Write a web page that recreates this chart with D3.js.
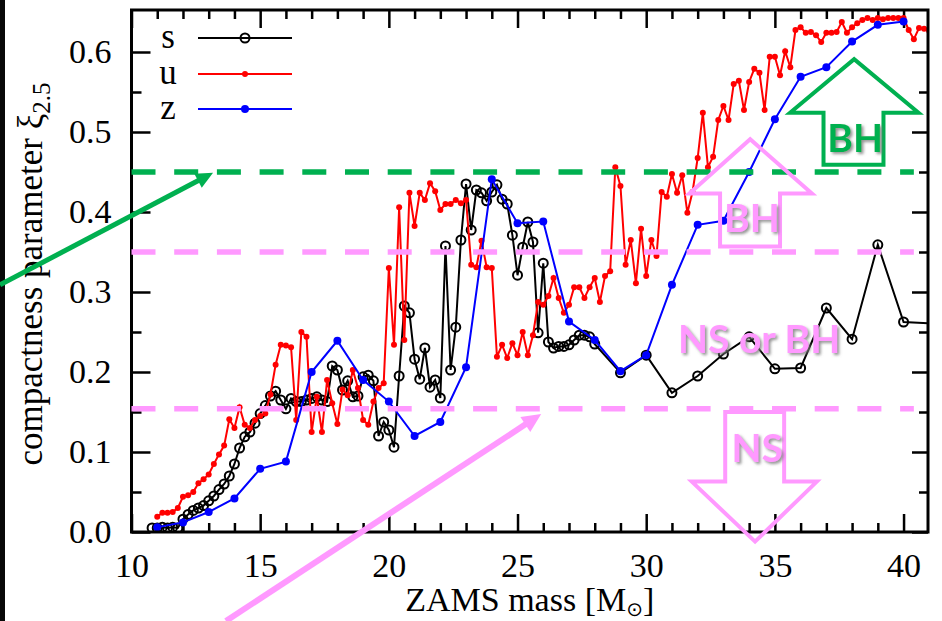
<!DOCTYPE html>
<html>
<head>
<meta charset="utf-8">
<script src="https://cdn.jsdelivr.net/npm/d3@7"></script>
<style>
  body { margin: 0; background: #fff; }
  svg { display: block; }
  .tick line { stroke: #000; stroke-width: 2.5; }
</style>
</head>
<body>
<svg id="chart"></svg>
<script>

// ---- data ----
var sMass = [10.8, 11, 11.2, 11.4, 11.6, 11.8,
  12, 12.2, 12.4, 12.6, 12.8, 13, 13.2, 13.4, 13.6, 13.8,
  14, 14.2, 14.4, 14.6, 14.8, 15, 15.2, 15.4, 15.6, 15.8,
  16, 16.2, 16.4, 16.6, 16.8, 17, 17.2, 17.4, 17.6, 17.8,
  18, 18.2, 18.4, 18.6, 18.8, 19, 19.2, 19.4, 19.6, 19.8,
  20, 20.2, 20.4, 20.6, 20.8, 21, 21.2, 21.4, 21.6, 21.8,
  22, 22.2, 22.4, 22.6, 22.8, 23, 23.2, 23.4, 23.6, 23.8,
  24, 24.2, 24.4, 24.6, 24.8, 25, 25.2, 25.4, 25.6, 25.8,
  26, 26.2, 26.4, 26.6, 26.8, 27, 27.2, 27.4, 27.6, 27.8,
  28, 29, 30, 31, 32, 33, 34, 35, 36, 37, 38, 39, 40, 45];
var sXi = [0.005, 0.005, 0.006, 0.005, 0.006, 0.005,
  0.016, 0.022, 0.027, 0.030, 0.033, 0.039, 0.045, 0.053, 0.060, 0.070,
  0.085, 0.105, 0.119, 0.125, 0.136, 0.148, 0.158, 0.170, 0.176, 0.165,
  0.154, 0.167, 0.163, 0.163, 0.165, 0.167, 0.169, 0.165, 0.163, 0.2075,
  0.2025, 0.1775, 0.189, 0.169, 0.170, 0.194, 0.196, 0.189, 0.120, 0.1375,
  0.1275, 0.106, 0.195, 0.2825, 0.274, 0.216, 0.191, 0.230, 0.181, 0.190,
  0.1675, 0.3575, 0.2025, 0.256, 0.365, 0.435, 0.3775, 0.4275, 0.424, 0.414,
  0.425, 0.434, 0.416, 0.410, 0.371, 0.321, 0.356, 0.3875, 0.3625, 0.249,
  0.336, 0.2375, 0.230, 0.232, 0.232, 0.234, 0.240, 0.246, 0.246, 0.244,
  0.235, 0.199, 0.221, 0.174, 0.195, 0.2225, 0.244, 0.204, 0.205, 0.280, 0.241, 0.359, 0.2625, 0.255];

var uMass = [11, 11.2, 11.4, 11.6, 11.8, 12, 12.2, 12.4, 12.6, 12.8,
  13, 13.2, 13.4, 13.6, 13.8, 14, 14.2, 14.4, 14.6, 14.8,
  15, 15.2, 15.4, 15.6, 15.8, 16, 16.2, 16.4, 16.6, 16.8,
  17, 17.2, 17.4, 17.6, 17.8, 18, 18.2, 18.4, 18.6, 18.8,
  19, 19.2, 19.4, 19.6, 19.8, 20, 20.2, 20.4, 20.6, 20.8,
  21, 21.2, 21.4, 21.6, 21.8, 22, 22.2, 22.4, 22.6, 22.8,
  23, 23.2, 23.4, 23.6, 23.8, 24, 24.2, 24.4, 24.6, 24.8,
  25, 25.2, 25.4, 25.6, 25.8, 26, 26.2, 26.4, 26.6, 26.8,
  27, 27.2, 27.4, 27.6, 27.8, 28, 28.2, 28.4, 28.6, 28.8,
  29, 29.2, 29.4, 29.6, 29.8, 30, 30.2, 30.4, 30.6, 30.8,
  31, 31.2, 31.4, 31.6, 31.8, 32, 32.2, 32.4, 32.6, 32.8,
  33, 33.2, 33.4, 33.6, 33.8, 34, 34.2, 34.4, 34.6, 34.8,
  35, 35.2, 35.4, 35.6, 35.8, 36, 36.2, 36.4, 36.6, 36.8,
  37, 37.2, 37.4, 37.6, 37.8, 38, 38.2, 38.4, 38.6, 38.8,
  39, 39.2, 39.4, 39.6, 39.8, 40, 40.2, 40.4, 40.6, 40.8, 41];
var uXi = [0.019, 0.024, 0.024, 0.025, 0.030, 0.044, 0.046, 0.050, 0.061, 0.066,
  0.072, 0.085, 0.097, 0.108, 0.141, 0.130, 0.156, 0.134, 0.130, 0.140,
  0.145, 0.148, 0.172, 0.209, 0.234, 0.233, 0.231, 0.140, 0.250, 0.244,
  0.125, 0.169, 0.125, 0.190, 0.161, 0.135, 0.178, 0.171, 0.2025, 0.180,
  0.140, 0.134, 0.163, 0.180, 0.186, 0.330, 0.234, 0.406, 0.240, 0.424,
  0.3825, 0.424, 0.415, 0.436, 0.426, 0.4025, 0.410, 0.410, 0.415, 0.411,
  0.415, 0.334, 0.331, 0.364, 0.331, 0.330, 0.219, 0.234, 0.2175, 0.236,
  0.221, 0.250, 0.221, 0.246, 0.2875, 0.284, 0.295, 0.3175, 0.2925, 0.274,
  0.284, 0.306, 0.306, 0.2925, 0.306, 0.3175, 0.2875, 0.320, 0.326, 0.456,
  0.4325, 0.334, 0.365, 0.311, 0.379, 0.320, 0.365, 0.345, 0.425, 0.419,
  0.4475, 0.424, 0.446, 0.399, 0.425, 0.4675, 0.524, 0.456, 0.469, 0.515,
  0.5325, 0.515, 0.560, 0.564, 0.5275, 0.5625, 0.579, 0.574, 0.5275, 0.594,
  0.594, 0.571, 0.601, 0.581, 0.6275, 0.631, 0.624, 0.625, 0.621, 0.6125,
  0.624, 0.624, 0.625, 0.6375, 0.624, 0.631, 0.636, 0.640, 0.6425, 0.640,
  0.6425, 0.641, 0.6425, 0.6425, 0.6425, 0.6425, 0.6275, 0.616, 0.630, 0.629, 0.626];

var zMass = [11, 12, 13, 14, 15, 16, 17, 18, 19, 20, 21, 22, 23, 24, 25,
  26, 27, 28, 29, 30, 31, 32, 33, 34, 35, 36, 37, 38, 39, 40];
var zXi = [0.006, 0.012, 0.025, 0.042, 0.079, 0.088, 0.200, 0.239, 0.190, 0.163, 0.120, 0.1375, 0.206, 0.441, 0.386,
  0.388, 0.263, 0.240, 0.201, 0.221, 0.309, 0.384, 0.389, 0.450, 0.516, 0.569, 0.581, 0.613, 0.634, 0.638];

var xMajorTicks = [10, 15, 20, 25, 30, 35, 40];
var xMinorTicks = [11, 12, 13, 14, 16, 17, 18, 19, 21, 22, 23, 24, 26, 27, 28, 29, 31, 32, 33, 34, 36, 37, 38, 39];
var yMajorTicks = [0, 0.1, 0.2, 0.3, 0.4, 0.5, 0.6];
var yMinorTicks = [0.05, 0.15, 0.25, 0.35, 0.45, 0.55];

// threshold lines (value, colour)
var thresholds = [0.45, 0.35, 0.154];
var thresholdColors = ["#00b050", "#ff99ff", "#ff99ff"];

// ---- layout ----
var width = 942;
var height = 621;
var green = "#00b050";
var pink = "#ff99ff";
var serif = '"Liberation Serif", "Times New Roman", serif';

var svg = d3.select('#chart')
    .attr('width', width)
    .attr('height', height);

var x = d3.scaleLinear().domain([10, 40.95]).range([131.5, 928]);
var y = d3.scaleLinear().domain([0, 0.6525]).range([532, 10]);

// drop shadow for the big labels
var defs = svg.append('defs');
var shadow = defs.append('filter').attr('id', 'shadow')
    .attr('x', '-20%').attr('y', '-20%').attr('width', '140%').attr('height', '140%');
shadow.append('feDropShadow')
    .attr('dx', 2).attr('dy', 2).attr('stdDeviation', 1.5)
    .attr('flood-color', '#777').attr('flood-opacity', 0.8);

defs.append('clipPath').attr('id', 'plotclip')
    .append('rect')
    .attr('x', x(10)).attr('y', y(0.6525))
    .attr('width', x(40.95) - x(10)).attr('height', y(0) - y(0.6525));

// dark strip on the left edge of the picture
svg.append('rect').attr('x', 0).attr('y', 0).attr('width', 5).attr('height', height).attr('fill', '#080808');

// ---- axes (ticks point inward on all four sides) ----
function styleAxis(g) {
    g.select('.domain').remove();
    g.selectAll('text')
        .style('font-family', serif)
        .style('font-size', '34px')
        .style('fill', '#000');
}

svg.append('g').attr('transform', 'translate(0,' + y(0) + ')')
    .call(d3.axisBottom(x).tickValues(xMinorTicks).tickSize(-9).tickFormat(''))
    .call(styleAxis);
svg.append('g').attr('transform', 'translate(0,' + y(0) + ')')
    .call(d3.axisBottom(x).tickValues(xMajorTicks).tickSize(-18).tickPadding(21).tickFormat(d3.format('d')))
    .call(styleAxis);
svg.append('g').attr('transform', 'translate(0,' + y(0.6525) + ')')
    .call(d3.axisTop(x).tickValues(xMinorTicks).tickSize(-9).tickFormat(''))
    .call(styleAxis);
svg.append('g').attr('transform', 'translate(0,' + y(0.6525) + ')')
    .call(d3.axisTop(x).tickValues(xMajorTicks).tickSize(-18).tickFormat(''))
    .call(styleAxis);

svg.append('g').attr('transform', 'translate(' + x(10) + ',0)')
    .call(d3.axisLeft(y).tickValues(yMinorTicks).tickSize(-10).tickFormat(''))
    .call(styleAxis);
svg.append('g').attr('transform', 'translate(' + x(10) + ',0)')
    .call(d3.axisLeft(y).tickValues(yMajorTicks).tickSize(-19).tickPadding(20).tickFormat(d3.format('.1f')))
    .call(styleAxis);
svg.append('g').attr('transform', 'translate(' + x(40.95) + ',0)')
    .call(d3.axisRight(y).tickValues(yMinorTicks).tickSize(-9).tickFormat(''))
    .call(styleAxis);
svg.append('g').attr('transform', 'translate(' + x(40.95) + ',0)')
    .call(d3.axisRight(y).tickValues(yMajorTicks).tickSize(-16).tickFormat(''))
    .call(styleAxis);

// axis titles
var xTitle = svg.append('text')
    .attr('x', (x(10) + x(40.95)) / 2).attr('y', 611)
    .attr('text-anchor', 'middle')
    .style('font-family', serif).style('font-size', '34px');
xTitle.append('tspan').text('ZAMS mass [M');
xTitle.append('tspan').attr('dy', 5).style('font-size', '20px').style('font-family', '"DejaVu Sans", sans-serif').text('\u2299');
xTitle.append('tspan').attr('dy', -5).text(']');

var yTitle = svg.append('text')
    .attr('transform', 'translate(42,' + ((y(0) + y(0.6525)) / 2 + 3) + ')rotate(-90)')
    .attr('text-anchor', 'middle')
    .style('font-family', serif).style('font-size', '35px');
yTitle.append('tspan').text('compactness parameter \u03be');
yTitle.append('tspan').attr('dy', 8).style('font-size', '25px').text('2.5');

// ---- series ----
var line = d3.line()
    .x(function (d) { return x(d[0]); })
    .y(function (d) { return y(d[1]); });

var plot = svg.append('g').attr('clip-path', 'url(#plotclip)');

var series = [
    { name: 's', pts: d3.zip(sMass, sXi), color: '#000', r: 4.5, open: true, lw: 2 },
    { name: 'u', pts: d3.zip(uMass, uXi), color: '#ff0000', r: 3, open: false, lw: 2 },
    { name: 'z', pts: d3.zip(zMass, zXi), color: '#0000ff', r: 4, open: false, lw: 2 }
];

series.forEach(function (s) {
    plot.append('path')
        .attr('d', line(s.pts))
        .attr('fill', 'none')
        .attr('stroke', s.color)
        .attr('stroke-width', s.lw);
    plot.selectAll('circle.' + s.name).data(s.pts).enter()
        .append('circle')
        .attr('class', s.name)
        .attr('cx', function (d) { return x(d[0]); })
        .attr('cy', function (d) { return y(d[1]); })
        .attr('r', s.r)
        .attr('fill', s.open ? 'none' : s.color)
        .attr('stroke', s.color)
        .attr('stroke-width', s.open ? 2 : 0);
});

// frame
svg.append('rect')
    .attr('x', x(10)).attr('y', y(0.6525))
    .attr('width', x(40.95) - x(10)).attr('height', y(0) - y(0.6525))
    .attr('fill', 'none').attr('stroke', '#000').attr('stroke-width', 3);

// legend
var legendRows = [38, 74, 109];
series.forEach(function (s, i) {
    var ly = legendRows[i];
    svg.append('text').attr('x', 168).attr('y', ly + 10)
        .attr('text-anchor', 'middle')
        .style('font-family', serif).style('font-size', '35px')
        .text(s.name);
    svg.append('line').attr('x1', 198).attr('x2', 292).attr('y1', ly).attr('y2', ly)
        .attr('stroke', s.color).attr('stroke-width', s.lw);
    svg.append('circle').attr('cx', 245).attr('cy', ly).attr('r', s.r)
        .attr('fill', s.open ? 'none' : s.color)
        .attr('stroke', s.color).attr('stroke-width', s.open ? 2 : 0);
});

// ---- annotations ----
thresholds.forEach(function (t, i) {
    svg.append('line')
        .attr('x1', x(10)).attr('x2', x(40.4))
        .attr('y1', y(t)).attr('y2', y(t))
        .attr('stroke', thresholdColors[i])
        .attr('stroke-width', 5.5)
        .attr('stroke-dasharray', '24 18.7');
});

// outlined block arrows, in data units
var bigArrows = [
    { color: green, pts: [[35.59, 0.524], [38.08, 0.591], [40.58, 0.524], [39.22, 0.524], [39.22, 0.459], [36.89, 0.459], [36.89, 0.524]] },
    { color: pink, pts: [[31.68, 0.423], [34.04, 0.491], [36.44, 0.423], [35.2, 0.423], [35.2, 0.357], [32.87, 0.357], [32.87, 0.423]] },
    { color: pink, pts: [[33.07, 0.150], [35.36, 0.150], [35.36, 0.063], [36.63, 0.063], [34.23, -0.012], [31.77, 0.063], [33.07, 0.063]] }
];
bigArrows.forEach(function (a) {
    svg.append('polygon')
        .attr('points', a.pts.map(function (p) { return x(p[0]) + ',' + y(p[1]); }).join(' '))
        .attr('fill', 'none')
        .attr('stroke', a.color)
        .attr('stroke-width', 4);
});

var labels = [
    { text: 'BH', m: 38.12, v: 0.494, color: green },
    { text: 'BH', m: 34.11, v: 0.394, color: pink },
    { text: 'NS or BH', m: 34.39, v: 0.2425, color: pink },
    { text: 'NS', m: 34.31, v: 0.106, color: pink }
];
labels.forEach(function (l) {
    svg.append('text')
        .attr('x', x(l.m)).attr('y', y(l.v))
        .attr('text-anchor', 'middle')
        .attr('dominant-baseline', 'central')
        .attr('filter', 'url(#shadow)')
        .style('font-family', 'Lato, "Open Sans", sans-serif')
        .style('font-weight', 700)
        .style('font-size', '39px')
        .style('fill', l.color)
        .text(l.text);
});

// thin pointer arrows
function pointer(m1, v1, m2, v2, color, w, headLen, headHalf) {
    var x1 = x(m1), y1 = y(v1), x2 = x(m2), y2 = y(v2);
    var dx = x2 - x1, dy = y2 - y1, len = Math.sqrt(dx * dx + dy * dy);
    var ux = dx / len, uy = dy / len;
    var bx = x2 - ux * headLen, by = y2 - uy * headLen;
    svg.append('line')
        .attr('x1', x1).attr('y1', y1).attr('x2', bx + ux * 2).attr('y2', by + uy * 2)
        .attr('stroke', color).attr('stroke-width', w);
    svg.append('polygon')
        .attr('points', [[x2, y2], [bx - uy * headHalf, by + ux * headHalf], [bx + uy * headHalf, by - ux * headHalf]]
            .map(function (p) { return p.join(','); }).join(' '))
        .attr('fill', color);
}
pointer(4.89, 0.309, 13.17, 0.449, green, 5, 17, 8);
pointer(13.67, -0.11125, 25.92, 0.1475, pink, 6, 19, 9);

</script>
</body>
</html>
